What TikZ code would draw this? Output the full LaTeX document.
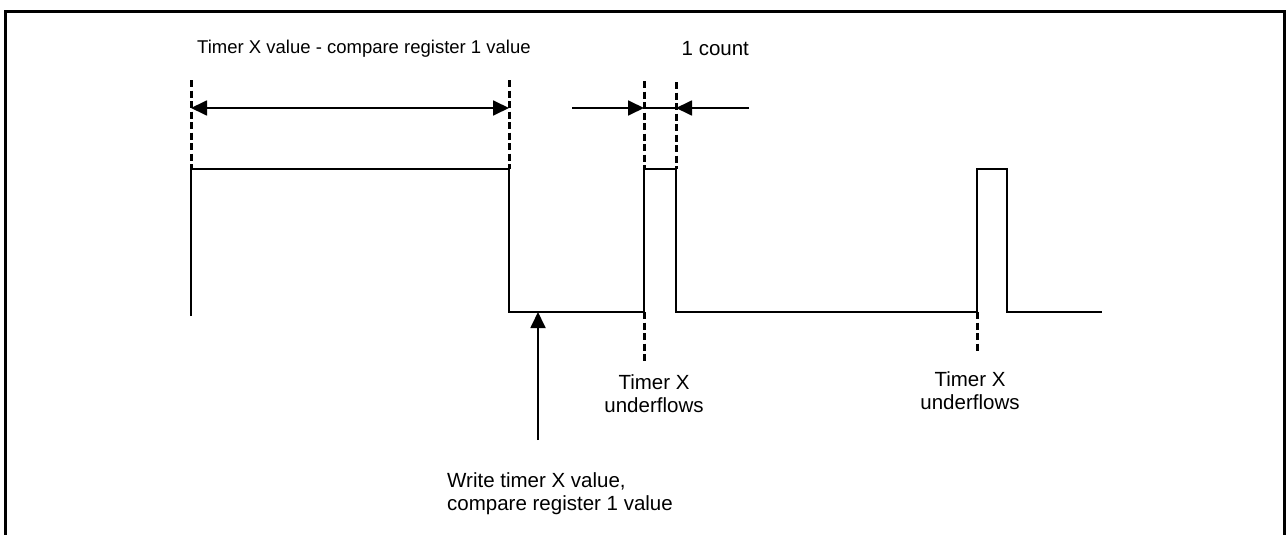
\documentclass[tikz,border=0pt]{standalone}
\usepackage{fontspec}
\setmainfont{Liberation Sans}
\usetikzlibrary{arrows.meta}
\begin{document}
\begin{tikzpicture}[x=1pt,y=-1pt,
  sig/.style={line width=2pt, line join=miter},
  guide/.style={line width=3pt, dash pattern=on 7pt off 3.5pt},
  dimline/.style={line width=1.8pt},
  tipped/.style={line width=1.8pt, -{Triangle[length=16pt,width=15pt]}},
  bothtip/.style={line width=1.8pt, {Triangle[length=16pt,width=15pt]}-{Triangle[length=16pt,width=15pt]}},
  frameline/.style={line width=3pt},
  toplbl/.style={font=\fontsize{18.5}{21}\selectfont, inner sep=0pt, anchor=base west},
  lbl/.style={font=\fontsize{20.5}{23}\selectfont, inner sep=0pt},
]
\useasboundingbox (0,0) rectangle (1287,535);
% frame
\coordinate (fbl) at (5.5,535);
\coordinate (ftl) at (5.5,12);
\coordinate (ftr) at (1284.5,12);
\coordinate (fbr) at (1284.5,535);
\draw[frameline] (fbl) -- (ftl) -- (ftr) -- (fbr);
% waveform points
\coordinate (w0) at (191,316);
\coordinate (w1) at (191,169);
\coordinate (w2) at (509,169);
\coordinate (w3) at (509,312);
\coordinate (w4) at (644,312);
\coordinate (w5) at (644,169);
\coordinate (w6) at (676,169);
\coordinate (w7) at (676,312);
\coordinate (w8) at (977,312);
\coordinate (w9) at (977,169);
\coordinate (w10) at (1007,169);
\coordinate (w11) at (1007,312);
\coordinate (w12) at (1102,312);
\draw[sig] (w0) -- (w1) -- (w2) -- (w3) -- (w4) -- (w5) -- (w6) -- (w7) -- (w8) -- (w9) -- (w10) -- (w11) -- (w12);
% dashed guides
\coordinate (g1) at (191,80);
\coordinate (g2) at (509,80);
\coordinate (g3) at (644,81);
\coordinate (g4) at (676,82);
\coordinate (g5) at (644,362);
\coordinate (g6) at (977,354);
\draw[guide] (g1) -- (w1);
\draw[guide] (g2) -- (w2);
\draw[guide] (g3) -- (w5);
\draw[guide] (g4) -- (w6);
\draw[guide] (w4) -- (g5);
\draw[guide] (w8) -- (g6);
% dimension arrows
\coordinate (d1) at (191,108);
\coordinate (d2) at (509,108);
\draw[bothtip] (d1) -- (d2);
\coordinate (c0) at (572,108);
\coordinate (c1) at (644,108);
\coordinate (c2) at (676,108);
\coordinate (c3) at (749,108);
\draw[dimline] (c1) -- (c2);
\draw[tipped] (c0) -- (c1);
\draw[tipped] (c3) -- (c2);
% write arrow
\coordinate (wa) at (538,440);
\coordinate (wb) at (538,312);
\draw[tipped] (wa) -- (wb);
% labels
\node[toplbl] (tdiff) at (197,53.3) {Timer X value - compare register 1 value};
\node[lbl, anchor=base west] (tcount) at (681.5,56) {1 count};
\node[lbl, anchor=north, align=center] (tuf1) at (654,374) {Timer X\\underflows};
\node[lbl, anchor=north, align=center] (tuf2) at (970,371.5) {Timer X\\underflows};
\node[lbl, anchor=north west, align=left] (twrite) at (447,472.7) {Write timer X value,\\compare register 1 value};
\end{tikzpicture}
\end{document}
